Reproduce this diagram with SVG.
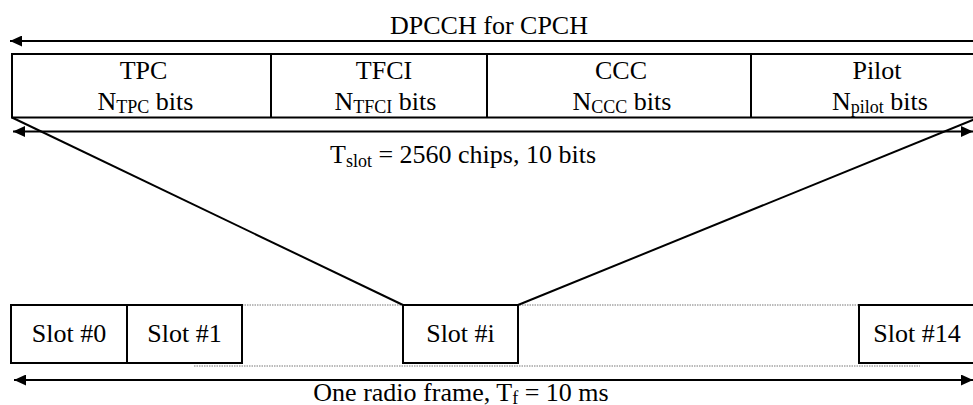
<svg xmlns="http://www.w3.org/2000/svg" width="973" height="405" viewBox="0 0 973 405" font-family="'Liberation Serif', 'Times New Roman', serif">
<style>
text{font-family:'Liberation Serif','Times New Roman',serif;font-size:26px;fill:#000;text-anchor:middle}
.sub{font-size:18px}
.box{fill:#fff;stroke:#000;stroke-width:2}
.ln{stroke:#000;stroke-width:2;fill:none}
.dot{stroke:#777;stroke-width:1;stroke-dasharray:1.5 1;fill:none}
</style>
<defs>
<marker id="ah" viewBox="0 0 12 11" refX="12" refY="5.5" markerWidth="12" markerHeight="11" markerUnits="userSpaceOnUse" orient="auto-start-reverse">
<path d="M0,0 L12,5.5 L0,11 Z" fill="#000"/>
</marker>
</defs>
<rect width="973" height="405" fill="#fff"/>
<g id="dpcch-label"><text x="489" y="34">DPCCH for CPCH</text></g>
<g id="slot-fields">
<rect class="box" x="12" y="54" width="975" height="63.5"/>
<line class="ln" x1="271" y1="54" x2="271" y2="117.5"/>
<line class="ln" x1="487" y1="54" x2="487" y2="117.5"/>
<line class="ln" x1="751" y1="54" x2="751" y2="117.5"/>
</g>
<g id="tpc"><text x="143.5" y="79">TPC</text><text x="145.5" y="110">N<tspan class="sub" dy="3">TPC</tspan><tspan dy="-3"> bits</tspan></text></g>
<g id="tfci"><text x="384" y="79">TFCI</text><text x="385.5" y="110">N<tspan class="sub" dy="3">TFCI</tspan><tspan dy="-3"> bits</tspan></text></g>
<g id="ccc"><text x="621" y="79">CCC</text><text x="622" y="110">N<tspan class="sub" dy="3">CCC</tspan><tspan dy="-3"> bits</tspan></text></g>
<g id="pilot"><text x="877" y="79">Pilot</text><text x="880" y="110">N<tspan class="sub" dy="3">pilot</tspan><tspan dy="-3"> bits</tspan></text></g>
<g id="tslot-label"><text x="463" y="163">T<tspan class="sub" dy="4">slot</tspan><tspan dy="-4"> = 2560 chips, 10 bits</tspan></text></g>
<g id="frame-dots">
<line class="dot" x1="242" y1="305" x2="859" y2="305"/>
<line class="dot" x1="194" y1="366" x2="920" y2="366"/>
</g>
<g id="slot0"><rect class="box" x="11" y="305" width="116" height="58"/><text x="69" y="342">Slot #0</text></g>
<g id="slot1"><rect class="box" x="127" y="305" width="115" height="58"/><text x="184.5" y="342">Slot #1</text></g>
<g id="sloti"><rect class="box" x="403" y="305" width="115" height="58"/><text x="460.5" y="342">Slot #i</text></g>
<g id="slot14"><rect class="box" x="859" y="305" width="117" height="58"/><text x="917" y="342">Slot #14</text></g>
<g id="frame-label"><text x="461" y="401">One radio frame, T<tspan class="sub" dy="3">f</tspan><tspan dy="-3"> = 10 ms</tspan></text></g>
<g id="connectors">
<line class="ln" x1="975" y1="41" x2="10" y2="41" marker-end="url(#ah)"/>
<line class="ln" x1="13" y1="131.5" x2="973" y2="131.5" marker-start="url(#ah)" marker-end="url(#ah)"/>
<line class="ln" x1="14" y1="380" x2="973" y2="380" marker-start="url(#ah)" marker-end="url(#ah)"/>
<line class="ln" x1="12" y1="117.5" x2="403" y2="305" stroke-width="2.5"/>
<line class="ln" x1="518" y1="305" x2="979" y2="117.5" stroke-width="2.5"/>
</g>
</svg>
